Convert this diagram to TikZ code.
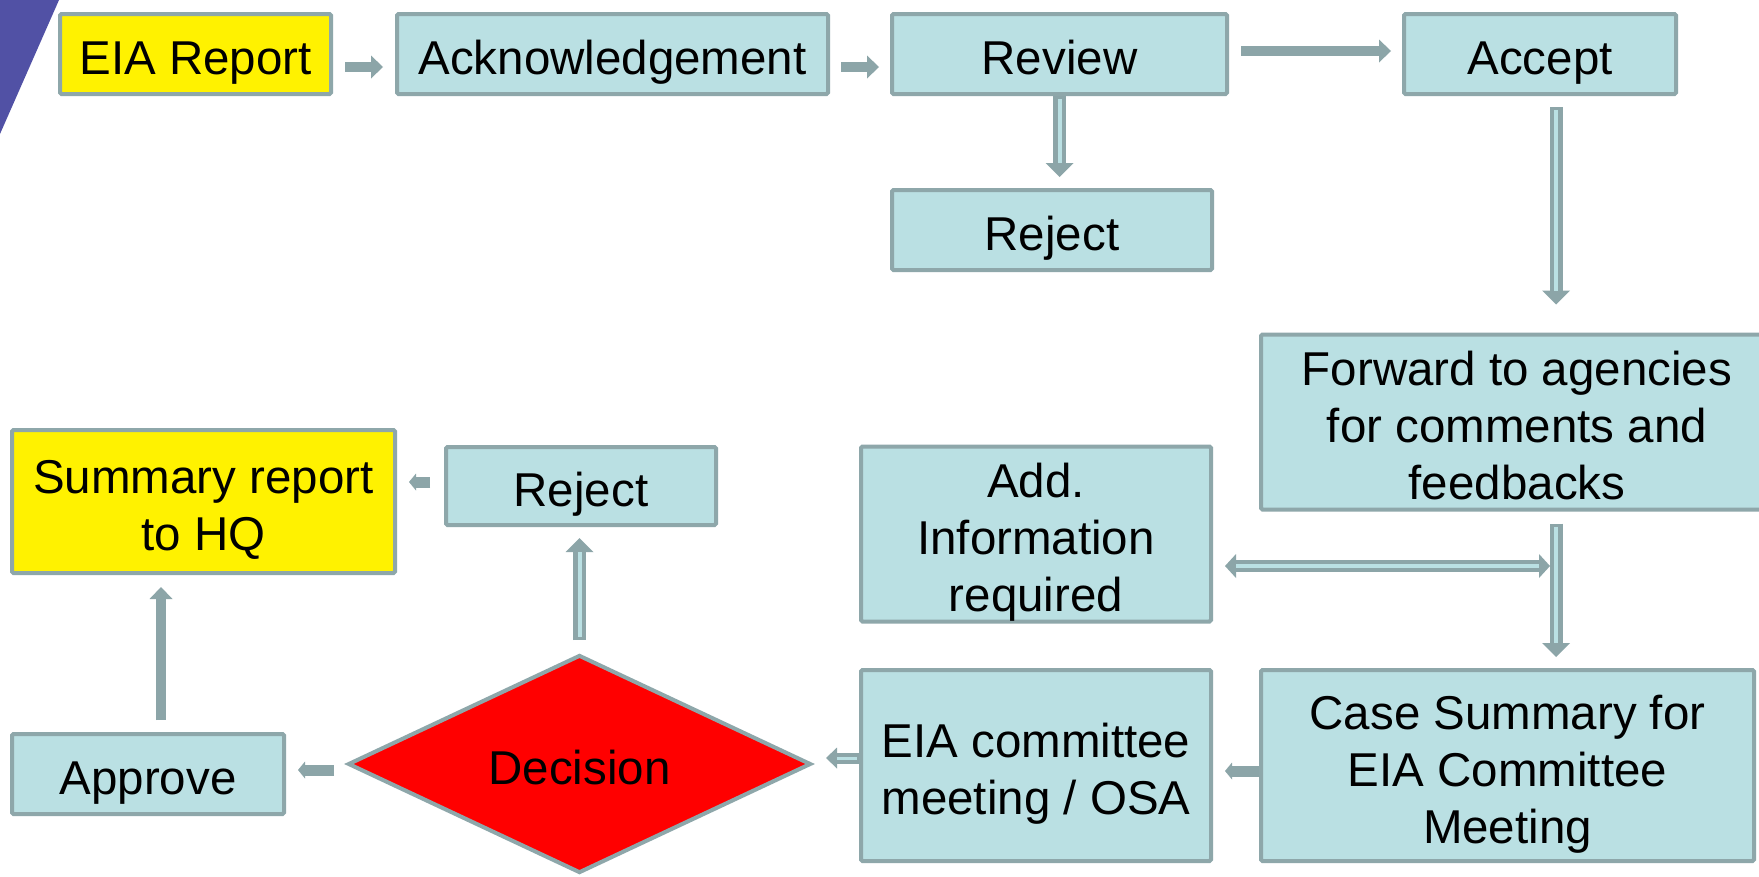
\documentclass[tikz,border=0pt]{standalone}
\usepackage{fontspec}
\setmainfont{Liberation Sans}
\usetikzlibrary{shapes.geometric,arrows.meta,calc}
\definecolor{boxfill}{HTML}{BAE0E3}
\definecolor{edge}{HTML}{8EA7AA}
\definecolor{arrowc}{HTML}{8CA5A8}
\definecolor{corner}{HTML}{5151A5}
\begin{document}
\begin{tikzpicture}[x=1pt,y=-1pt,
  txt/.style={font=\fontsize{47.5}{57}\selectfont,text=black,
    execute at begin node={\rule{0pt}{50pt}},
    execute at end node={\rule[-10pt]{0pt}{10pt}}},
  multi/.style={execute at begin node={\rule{0pt}{#1}}},
  box/.style={txt,draw=edge,line width=4pt,fill=boxfill,rounded corners=1.5pt,align=center,inner sep=0pt},
  farrow/.style={draw=arrowc,line width=10pt,-{Triangle[length=12pt,width=23pt,line width=0pt]}},
  stubarrow/.style={draw=arrowc,line width=11pt,-{Triangle[length=7pt,width=17pt,line width=0pt]}},
  harrow/.style={draw=arrowc,line width=13pt,-{Triangle[length=14pt,width=28pt,line width=0pt]},
    postaction={draw=boxfill,line width=4pt,-,shorten >=14pt,shorten <=3pt}},
  harrowsmall/.style={draw=arrowc,line width=11pt,-{Triangle[length=11pt,width=21pt,line width=0pt]},
    postaction={draw=boxfill,line width=3pt,-,shorten >=11pt,shorten <=2pt}},
  hharrow/.style={draw=arrowc,line width=12pt,
    {Triangle[length=11pt,width=24pt,line width=0pt]}-{Triangle[length=11pt,width=24pt,line width=0pt]},
    postaction={draw=boxfill,line width=3.5pt,-,shorten >=11pt,shorten <=11pt}}
]
\useasboundingbox[fill=white] (0,0) rectangle (1759,876);
\fill[corner] (0,0) -- (59,0) -- (0,134) -- cycle;

\node[box,fill=yellow,minimum width=271pt,minimum height=80pt] (eia) at (195.5,54) {EIA Report};
\node[box,minimum width=431pt,minimum height=80pt] (ack) at (612.5,54) {Acknowledgement};
\node[box,minimum width=335pt,minimum height=80pt] (review) at (1059.5,54) {Review};
\node[box,minimum width=320pt,minimum height=80pt] (rej1) at (1052,230) {Reject};
\node[box,minimum width=272pt,minimum height=80pt] (accept) at (1540,54) {Accept};
\node[box,multi=165pt,minimum width=512pt,minimum height=174pt] (fwd) at (1517,422) {Forward to agencies\\for comments and\\feedbacks};
\node[box,multi=165pt,minimum width=350pt,minimum height=174pt] (add) at (1036,534) {Add.\\Information\\required};
\node[box,multi=165pt,minimum width=493pt,minimum height=191pt] (case) at (1507.5,765.5) {Case Summary for\\EIA Committee\\Meeting};
\node[box,multi=108pt,minimum width=350pt,minimum height=191pt] (com) at (1036,765.5) {EIA committee\\meeting / OSA};
\node[diamond,txt,draw=edge,line width=4pt,fill=red,aspect=2.1,inner sep=0pt,minimum width=463pt,minimum height=218pt] (dec) at (579.5,764) {Decision};
\node[box,minimum width=270pt,minimum height=78pt] (rej2) at (581,486) {Reject};
\node[box,multi=108pt,fill=yellow,minimum width=383pt,minimum height=143pt] (sum) at (203.5,501.5) {Summary report\\to HQ};
\node[box,minimum width=272pt,minimum height=80pt] (app) at (148,774) {Approve};

\draw[farrow] ($(eia.east)+(12,13)$) -- ($(ack.west)+(-12,13)$);
\draw[farrow] ($(ack.east)+(11,13)$) -- ($(review.west)+(-11,13)$);
\draw[farrow] ($(review.east)+(12,-3)$) -- ($(accept.west)+(-11,-3)$);
\draw[harrow] (review.south) -- ($(review.south |- rej1.north)+(0,-11)$);
\coordinate (vx) at ($(accept.south)+(16,0)$);
\draw[harrow] ($(vx)+(0,11)$) -- ($(vx |- fwd.north)+(0,-28)$);
\draw[harrow] ($(vx |- fwd.south)+(0,12)$) -- ($(vx |- case.north)+(0,-11)$);
\draw[hharrow] ($(add.east)+(12,32)$) -- ($(vx |- add.east)+(-6,32)$);
\draw[stubarrow] ($(case.west)+(0,5.5)$) -- ($(com.east)+(12,5.5)$);
\draw[harrowsmall] ($(com.west)+(0,-7.5)$) -- ($(dec.east)+(13,-6)$);
\draw[harrow] ($(dec.north)+(0,-13)$) -- ($(dec.north |- rej2.south)+(0,11)$);
\draw[stubarrow] ($(dec.west)+(-12,6)$) -- ($(app.east)+(12,-4)$);
\draw[stubarrow] ($(rej2.west)+(-14,-4)$) -- ($(sum.east)+(12,-19.5)$);
\draw[farrow] ($(app.north)+(13,-12)$) -- ($(app.north |- sum.south)+(13,12)$);
\end{tikzpicture}
\end{document}
